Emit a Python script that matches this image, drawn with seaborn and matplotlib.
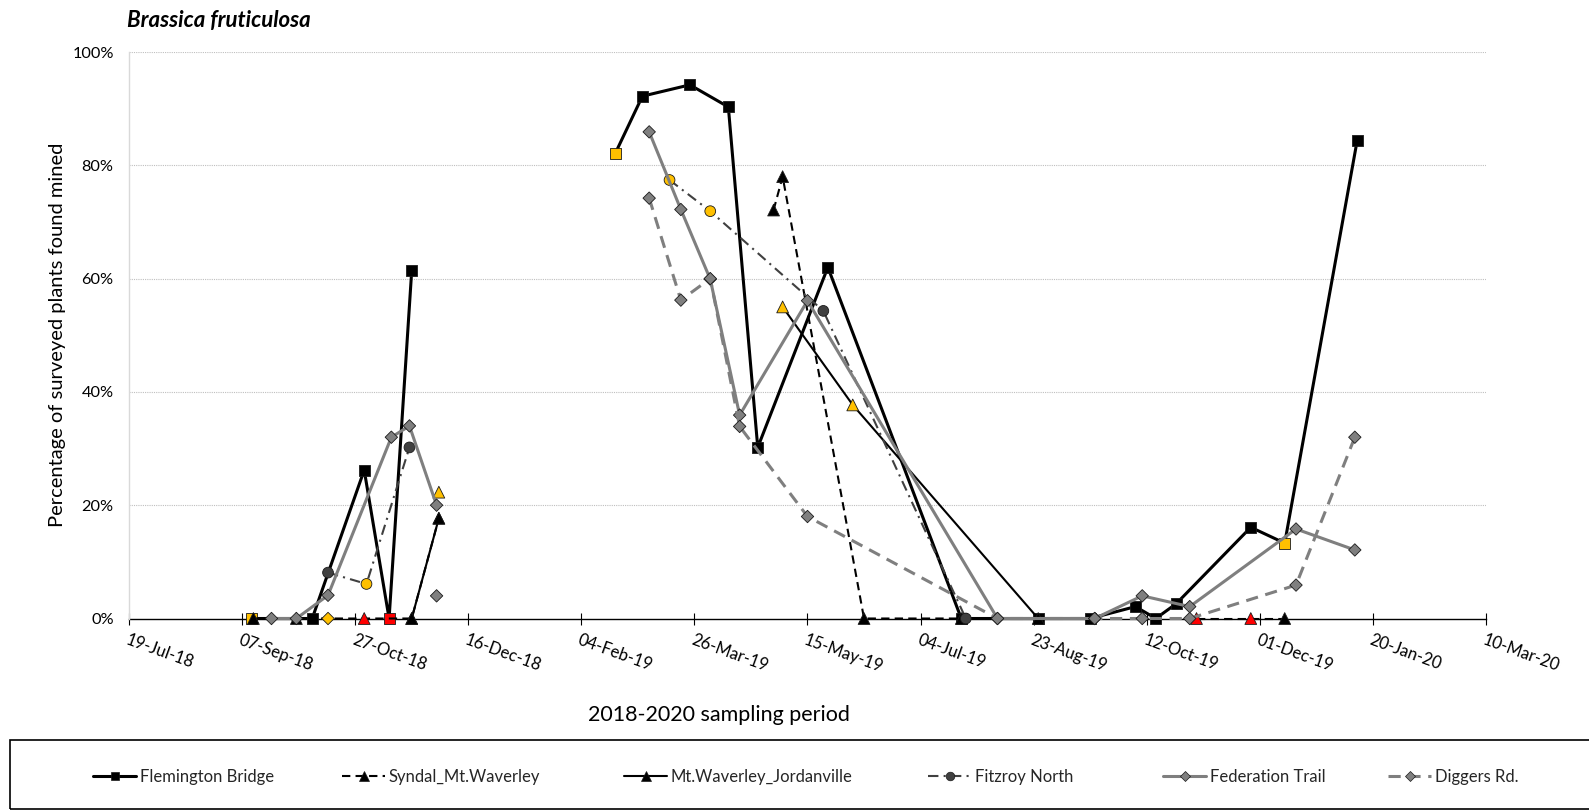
import numpy as np
import pandas as pd
import matplotlib
matplotlib.use("Agg")
import matplotlib.pyplot as plt
import matplotlib.dates as mdates
import matplotlib.ticker as mticker
from matplotlib.lines import Line2D
from matplotlib.patches import Rectangle
import seaborn as sns

# ---------------------------------------------------------------- data
# Percentage of surveyed plants found mined, per site and sampling date.
# seg: continuous runs of the line; fill: marker colour ("n" normal, "Y" yellow, "R" red)
fb_dates = ["2018-09-11", "2018-10-08", "2018-10-31", "2018-11-11", "2018-11-21",
            "2019-02-19", "2019-03-03", "2019-03-24", "2019-04-10", "2019-04-23",
            "2019-05-24", "2019-07-22", "2019-08-25", "2019-09-17", "2019-10-07",
            "2019-10-16", "2019-10-25", "2019-11-27", "2019-12-12", "2020-01-13"]
fb_vals = [0, 0, 26.2, 0, 61.4,
           82.1, 92.2, 94.2, 90.3, 30.2,
           62.0, 0, 0, 0, 2.1,
           0, 2.6, 16.1, 13.3, 84.3]
fb_seg = [1, 1, 1, 1, 1, 2, 2, 2, 2, 2, 2, 2, 2, 2, 2, 2, 2, 2, 2, 2]
fb_fill = ["Y", "n", "n", "R", "n", "Y", "n", "n", "n", "n",
           "n", "n", "n", "n", "n", "n", "n", "n", "Y", "n"]

sy_dates = ["2018-09-12", "2018-10-01", "2018-10-31", "2018-11-21", "2018-12-03",
            "2019-04-30", "2019-05-04", "2019-06-09", "2019-07-22",
            "2019-11-03", "2019-11-27", "2019-12-12"]
sy_vals = [0, 0, 0, 0, 17.7,
           72.1, 78.0, 0, 0,
           0, 0, 0]
sy_seg = [1, 1, 1, 1, 1, 2, 2, 2, 2, 3, 3, 3]
sy_fill = ["n", "n", "R", "n", "n", "n", "n", "n", "n", "R", "R", "n"]

mw_dates = ["2018-11-21", "2018-12-03", "2018-12-03",
            "2019-05-04", "2019-06-04", "2019-08-25"]
mw_vals = [0, 17.7, 22.3, 55.0, 37.7, 0]
mw_seg = [1, 1, 2, 3, 3, 3]
mw_fill = ["n", "n", "Y", "Y", "Y", "n"]

fn_dates = ["2018-10-15", "2018-11-01", "2018-11-20",
            "2019-03-15", "2019-04-02", "2019-05-22", "2019-07-24"]
fn_vals = [8.1, 6.1, 30.2, 77.4, 71.9, 54.3, 0]
fn_seg = [1, 1, 1, 2, 2, 2, 2]
fn_fill = ["n", "Y", "n", "Y", "Y", "n", "n"]

ft_dates = ["2018-09-20", "2018-10-01", "2018-10-15", "2018-11-12", "2018-11-20",
            "2018-12-02", "2019-03-06", "2019-03-20", "2019-04-02", "2019-04-15",
            "2019-05-15", "2019-08-07", "2019-09-19", "2019-10-10", "2019-10-31",
            "2019-12-17", "2020-01-12"]
ft_vals = [0, 0, 4.1, 32.0, 34.0,
           20.0, 85.9, 72.2, 59.9, 35.9,
           56.1, 0, 0, 4.0, 2.1,
           15.8, 12.1]
ft_seg = [1, 1, 1, 1, 1, 1, 2, 2, 2, 2, 2, 2, 2, 2, 2, 2, 2]
ft_fill = ["n"] * 17

dr_dates = ["2018-10-15", "2018-12-02",
            "2019-03-06", "2019-03-20", "2019-04-02", "2019-04-15", "2019-05-15",
            "2019-08-07", "2019-09-19", "2019-10-10", "2019-10-31",
            "2019-12-17", "2020-01-12"]
dr_vals = [0, 4.0, 74.2, 56.2, 60.0, 33.9, 18.0, 0, 0, 0, 0, 5.9, 32.0]
dr_seg = [1, 2, 3, 3, 3, 3, 3, 3, 3, 3, 3, 3, 3]
dr_fill = ["Y", "n", "n", "n", "n", "n", "n", "n", "n", "n", "n", "n", "n"]

site_names = ["Flemington Bridge", "Syndal_Mt.Waverley", "Mt.Waverley_Jordanville",
              "Fitzroy North", "Federation Trail", "Diggers Rd."]

x_tick_start = "2018-07-19"
x_tick_end = "2020-03-10"
x_tick_step_days = 50
y_ticks = [0, 20, 40, 60, 80, 100]

title_text = "Brassica fruticulosa"
x_label = "2018-2020 sampling period"
y_label = "Percentage of surveyed plants found mined"

# ---------------------------------------------------------------- styles
YELLOW = "#FFC000"
RED = "#FF0000"
DARK = "#404040"
GREY = "#7F7F7F"

styles = [
    dict(color="black", lw=2.2, ls="-", marker="s", s=62, face="black"),
    dict(color="black", lw=1.5, ls=(0, (4, 2.5)), marker="^", s=72, face="black"),
    dict(color="black", lw=1.5, ls="-", marker="^", s=72, face="black"),
    dict(color=DARK, lw=1.5, ls=(0, (5, 2.5, 1, 2.5)), marker="o", s=60, face=DARK),
    dict(color=GREY, lw=2.2, ls="-", marker="D", s=40, face=GREY),
    dict(color=GREY, lw=2.2, ls=(0, (4, 2.5)), marker="D", s=40, face=GREY),
]

series = [
    (fb_dates, fb_vals, fb_seg, fb_fill),
    (sy_dates, sy_vals, sy_seg, sy_fill),
    (mw_dates, mw_vals, mw_seg, mw_fill),
    (fn_dates, fn_vals, fn_seg, fn_fill),
    (ft_dates, ft_vals, ft_seg, ft_fill),
    (dr_dates, dr_vals, dr_seg, dr_fill),
]

sns.set_theme(style="white")
plt.rcParams["font.family"] = ["Lato", "DejaVu Sans"]

W, H = 1589, 810
fig = plt.figure(figsize=(W / 100, H / 100), dpi=100)
ax_left, ax_right, ax_top, ax_bottom = 129, 1486, 52, 618.5
ax = fig.add_axes([ax_left / W, 1 - ax_bottom / H,
                   (ax_right - ax_left) / W, (ax_bottom - ax_top) / H])

for i, ((dates, vals, seg, fill), st) in enumerate(zip(series, styles)):
    df = pd.DataFrame({"date": pd.to_datetime(dates),
                       "value": np.array(vals, dtype=float) / 100.0,
                       "seg": seg, "fill": fill})
    n_before = len(ax.lines)
    sns.lineplot(data=df, x="date", y="value", units="seg", estimator=None,
                 sort=False, color=st["color"], linewidth=st["lw"],
                 linestyle=st["ls"], ax=ax, legend=False)
    for ln in ax.lines[n_before:]:
        ln.set_clip_on(False)
        ln.set_zorder(3 + 2 * i)
        ln.set_solid_capstyle("round")
    palette = {"n": st["face"], "Y": YELLOW, "R": RED}
    n_coll = len(ax.collections)
    sns.scatterplot(data=df, x="date", y="value", hue="fill", palette=palette,
                    marker=st["marker"], s=st["s"], edgecolor="#1a1a1a",
                    linewidth=0.6, ax=ax, legend=False)
    for coll in ax.collections[n_coll:]:
        coll.set_clip_on(False)
        coll.set_zorder(4 + 2 * i)

# ---------------------------------------------------------------- axes
start = pd.Timestamp(x_tick_start)
end = pd.Timestamp(x_tick_end)
ticks = pd.date_range(start, end, freq=f"{x_tick_step_days}D")
ax.set_xlim(start, end)
ax.set_ylim(0, 1)
ax.set_xticks(ticks)
ax.xaxis.set_major_formatter(mdates.DateFormatter("%d-%b-%y"))
ax.set_yticks([v / 100 for v in y_ticks])
ax.yaxis.set_major_formatter(mticker.FuncFormatter(lambda v, p: f"{v * 100:.0f}%"))

for yv in y_ticks[1:]:
    ax.axhline(yv / 100, color="#BFBFBF", lw=0.8, ls=(0, (1, 1)), zorder=0)

for side in ["top", "right"]:
    ax.spines[side].set_visible(False)
ax.spines["left"].set_color("#D9D9D9")
ax.spines["left"].set_linewidth(1.0)
ax.spines["bottom"].set_color("black")
ax.spines["bottom"].set_linewidth(1.0)
ax.spines["bottom"].set_zorder(2)

ax.tick_params(axis="x", direction="inout", length=9, width=0.8, color="black",
               pad=5, labelsize=12, labelcolor="black", bottom=True)
ax.tick_params(axis="y", length=0, pad=11, labelsize=11.8, labelcolor="black")
for lab in ax.get_xticklabels():
    lab.set_rotation(-20)
    lab.set_ha("left")
    lab.set_va("top")
    lab.set_rotation_mode("anchor")

ax.set_xlabel(x_label, fontsize=15.5, color="black")
ax.xaxis.label.set_va("center")
ax.xaxis.set_label_coords((719 - ax_left) / (ax_right - ax_left),
                          (ax_bottom - 715) / (ax_bottom - ax_top))
ax.set_ylabel(y_label, fontsize=14.5, color="black")
ax.yaxis.label.set_va("center")
ax.yaxis.set_label_coords((58 - ax_left) / (ax_right - ax_left), 0.5)

fig.text(127 / W, 1 - 21 / H, title_text, fontsize=16, fontweight="bold",
         fontstyle="italic", ha="left", va="center", color="black")

# ---------------------------------------------------------------- legend
# one entry per site, each anchored at its own x position along the strip
entry_x = [93, 342, 624, 928, 1163, 1388]
for st, name, ex in zip(styles, site_names, entry_x):
    h = Line2D([0], [0], color=st["color"], lw=st["lw"], ls=st["ls"],
               marker=st["marker"], markersize=np.sqrt(st["s"]) * 0.8,
               markerfacecolor=st["face"], markeredgecolor="#1a1a1a",
               markeredgewidth=0.5)
    fig.legend([h], [name], loc="center left",
               bbox_to_anchor=(ex / W, 1 - 777 / H), frameon=False,
               fontsize=12, handlelength=2.6, handletextpad=0.2,
               borderpad=0, borderaxespad=0)
fig.patches.append(Rectangle((10 / W, 1 - 809 / H), 1.0, (809 - 740) / H,
                             transform=fig.transFigure, fill=False,
                             edgecolor="black", lw=1.2))

fig.savefig("out.png", dpi=100, facecolor="white")
